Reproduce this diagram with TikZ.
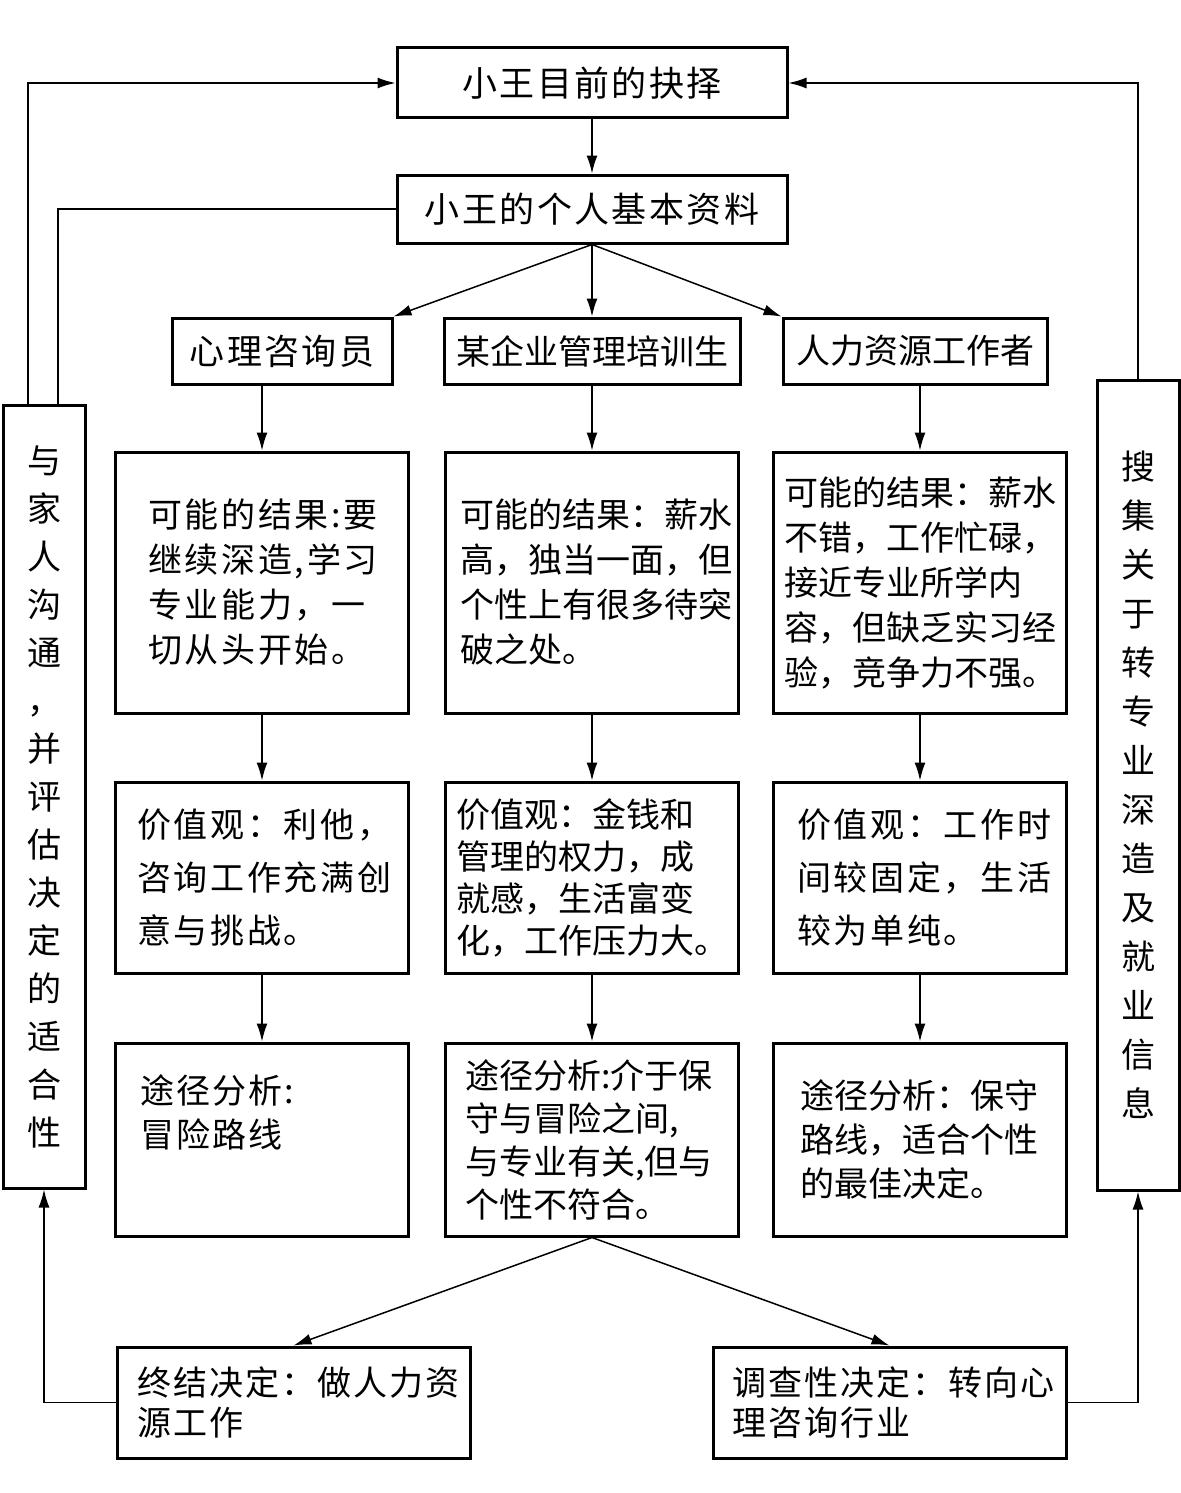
\documentclass[tikz,border=0pt]{standalone}
\usepackage{fontspec}
\setmainfont{Noto Sans CJK SC}
\usetikzlibrary{arrows.meta,calc}

\begin{document}
\begin{tikzpicture}[x=0.5pt,y=-0.5pt,
  box/.style={draw,line width=1.5pt,rectangle,inner sep=0pt,align=left,font=\fontsize{17}{23}\selectfont},
  head/.style={box,align=center,font=\fontsize{17.5}{22}\selectfont\addfontfeatures{LetterSpace=7}},
  link/.style={line width=0.75pt},
  arr/.style={link,-{Latex[length=9pt,width=5.5pt]}}]
\useasboundingbox (0,0) rectangle (1181,1493);
\node[head,minimum width=195pt,minimum height=35pt] (top) at (592,83) {小王目前的抉择};
\node[head,minimum width=195pt,minimum height=34pt] (info) at (592,209) {小王的个人基本资料};
\node[head,minimum width=110pt,minimum height=33pt] (p1) at (282,351) {心理咨询员};
\node[head,minimum width=148pt,minimum height=33pt,font=\fontsize{17}{22}\selectfont] (p2) at (592,351) {某企业管理培训生};
\node[head,minimum width=132pt,minimum height=33pt,font=\fontsize{17}{22}\selectfont] (p3) at (915,351) {人力资源工作者};
\node[box,minimum width=146.5pt,minimum height=130.5pt,text width=114pt,font=\fontsize{17}{22.5}\selectfont\addfontfeatures{LetterSpace=8}] (r1) at (262,582.5) {可能的结果:要\\继续深造,学习\\专业能力，一\\切从头开始。};
\node[box,minimum width=146.5pt,minimum height=130.5pt,text width=132pt,font=\fontsize{17}{22.5}\selectfont] (r2) at (592,582.5) {可能的结果：薪水\\高，独当一面，但\\个性上有很多待突\\破之处。};
\node[box,minimum width=146.5pt,minimum height=130.5pt,text width=136pt,font=\fontsize{17}{22.5}\selectfont] (r3) at (920,582.5) {可能的结果：薪水\\不错，工作忙碌，\\接近专业所学内\\容，但缺乏实习经\\验，竞争力不强。};
\node[box,minimum width=146.5pt,minimum height=95.5pt,text width=125pt,font=\fontsize{17}{26.5}\selectfont\addfontfeatures{LetterSpace=8}] (v1) at (262,877.5) {价值观：利他，\\咨询工作充满创\\意与挑战。};
\node[box,minimum width=146.5pt,minimum height=95.5pt,text width=136pt,font=\fontsize{17}{21}\selectfont] (v2) at (592,877.5) {价值观：金钱和\\管理的权力，成\\就感，生活富变\\化，工作压力大。};
\node[box,minimum width=146.5pt,minimum height=95.5pt,text width=123pt,font=\fontsize{17}{26.5}\selectfont\addfontfeatures{LetterSpace=8}] (v3) at (920,877.5) {价值观：工作时\\间较固定，生活\\较为单纯。};
\node[box,minimum width=146.5pt,minimum height=96.5pt,text width=122pt,font=\fontsize{17}{22}\selectfont\addfontfeatures{LetterSpace=6}] (w1) at (262,1139.5) {途径分析:\\冒险路线\\ \strut};
\node[box,minimum width=146.5pt,minimum height=96.5pt,text width=127pt,font=\fontsize{17}{21.5}\selectfont] (w2) at (592,1139.5) {途径分析:介于保\\守与冒险之间,\\与专业有关,但与\\个性不符合。};
\node[box,minimum width=146.5pt,minimum height=96.5pt,text width=120pt,font=\fontsize{17}{22}\selectfont] (w3) at (920,1139.5) {途径分析：保守\\路线，适合个性\\的最佳决定。};
\node[box,minimum width=176.5pt,minimum height=55.5pt,text width=156.5pt,font=\fontsize{17}{20}\selectfont\addfontfeatures{LetterSpace=6}] (d1) at (293.5,1402.5) {终结决定：做人力资\\源工作};
\node[box,minimum width=176.5pt,minimum height=55.5pt,text width=157.5pt,font=\fontsize{17}{20}\selectfont\addfontfeatures{LetterSpace=6}] (d2) at (889.5,1402.5) {调查性决定：转向心\\理咨询行业};
\node[box,minimum width=41pt,minimum height=391.5pt,align=center,font=\fontsize{17}{24}\selectfont] (fam) at (44,796.5) {与\\家\\人\\沟\\通\\，\\并\\评\\估\\决\\定\\的\\适\\合\\性};
\node[box,minimum width=41pt,minimum height=405pt,align=center,font=\fontsize{17}{24.5}\selectfont] (col) at (1138,785) {搜\\集\\关\\于\\转\\专\\业\\深\\造\\及\\就\\业\\信\\息};
\draw[arr] (top) -- (info);
\draw[arr] (info.south) -- (p1.north east);
\draw[arr] (info.south) -- (p2.north);
\draw[arr] (info.south) -- (p3.north west);
\draw[arr] (p1.south -| r1.north) -- (r1.north);
\draw[arr] (p2.south -| r2.north) -- (r2.north);
\draw[arr] (p3.south -| r3.north) -- (r3.north);
\draw[arr] (r1) -- (v1);
\draw[arr] (r2) -- (v2);
\draw[arr] (r3) -- (v3);
\draw[arr] (v1) -- (w1);
\draw[arr] (v2) -- (w2);
\draw[arr] (v3) -- (w3);
\draw[arr] (w2.south) -- (d1.north);
\draw[arr] (w2.south) -- (d2.north);
\draw[arr] ($(fam.north)+(-16,0)$) |- (top.west);
\draw[link] ($(fam.north)+(14,0)$) |- (info.west);
\draw[arr] (col.north) |- (top.east);
\draw[arr] (d1.west) -| (fam.south);
\draw[arr] (d2.east) -| (col.south);
\end{tikzpicture}
\end{document}
